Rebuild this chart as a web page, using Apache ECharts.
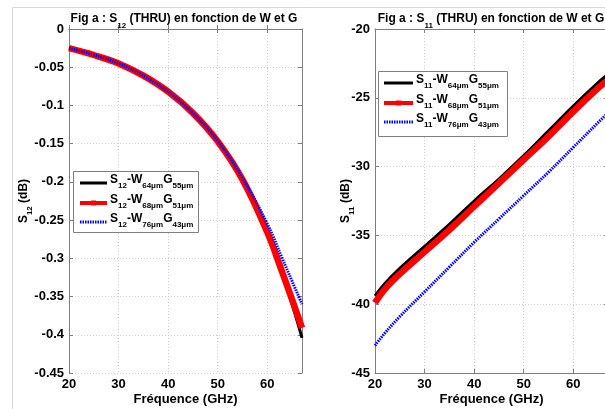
<!DOCTYPE html>
<html><head><meta charset="utf-8">
<script src="https://cdn.jsdelivr.net/npm/echarts@6/dist/echarts.min.js"></script>
<style>html,body{margin:0;padding:0;background:#fff}#c{width:605px;height:409px}</style>
</head><body><div id="c"></div>
<script>
// ---- data ----
const freqS12 = [20, 25, 30, 35, 40, 45, 50, 55, 60, 63, 65, 67];
const s12W64G55 = [-0.025, -0.034, -0.045, -0.061, -0.082, -0.110, -0.147, -0.198, -0.268, -0.322, -0.360, -0.404];
const s12W68G51 = [-0.025, -0.034, -0.045, -0.061, -0.082, -0.110, -0.147, -0.197, -0.266, -0.318, -0.354, -0.391];
const s12W76G43 = [-0.025, -0.034, -0.045, -0.061, -0.082, -0.110, -0.146, -0.195, -0.255, -0.300, -0.330, -0.360];

const freqS11 = [20, 22, 25, 30, 35, 40, 45, 50, 55, 60, 65, 67];
const s11W64G55 = [-39.4, -38.5, -37.4, -35.8, -34.2, -32.5, -30.9, -29.2, -27.4, -25.6, -23.9, -23.3];
const s11W68G51 = [-39.9, -38.9, -37.8, -36.2, -34.6, -32.9, -31.2, -29.5, -27.8, -26.0, -24.3, -23.7];
const s11W76G43 = [-43.0, -42.1, -40.9, -39.1, -37.3, -35.5, -33.8, -32.1, -30.4, -28.6, -26.8, -26.1];

const xTicks = [20, 30, 40, 50, 60];
const titles = ['Fig a : S|12| (THRU) en fonction de W et G', 'Fig a : S|11| (THRU) en fonction de W et G'];
const legendS12 = [['S','12','-W','64μm','G','55μm'], ['S','12','-W','68μm','G','51μm'], ['S','12','-W','76μm','G','43μm']];
const legendS11 = [['S','11','-W','64μm','G','55μm'], ['S','11','-W','68μm','G','51μm'], ['S','11','-W','76μm','G','43μm']];

const FONT = "'Liberation Sans', Arial, sans-serif";
const AX = '#7f7f7f';
const richMain = (fs, pad) => ({ fontSize: fs, fontWeight: 'bold', fontFamily: FONT, color: '#000', lineHeight: fs + 2, padding: [0, 0, pad, 0], verticalAlign: 'bottom' });
const richSub = (fs) => ({ fontSize: fs, fontWeight: 'bold', fontFamily: FONT, color: '#000', lineHeight: fs + 2, verticalAlign: 'bottom' });
const RICH = { m: richMain(12, 5), s: richSub(8) };
const RICH_L = { m: richMain(12, 4), s: richSub(8) };

function richStr(parts) { return parts.map((p, i) => p === '' ? '' : (i % 2 === 0 ? '{m|' + p + '}' : '{s|' + p + '}')).join(''); }

const chart = echarts.init(document.getElementById('c'));

function xAxisMain(gi) {
  return {
    type: 'value', gridIndex: gi, min: 20, max: 67, interval: 10,
    axisLine: { lineStyle: { color: AX } },
    axisTick: { inside: true, length: 4, lineStyle: { color: AX } },
    axisLabel: { color: '#000', fontFamily: FONT, fontWeight: 'bold', fontSize: 13, margin: 5, showMaxLabel: false,
      formatter: v => xTicks.indexOf(v) >= 0 ? String(v) : '' },
    splitLine: { show: true, lineStyle: { color: '#d0d0d0', type: [1, 2] } },
    name: 'Fréquence (GHz)', nameLocation: 'middle', nameGap: 20, nameMoveOverlap: false,
    nameTextStyle: { color: '#000', fontFamily: FONT, fontWeight: 'bold', fontSize: 13 }
  };
}
function xAxisTop(gi) {
  return { type: 'value', gridIndex: gi, position: 'top', min: 20, max: 67, interval: 10,
    axisLine: { lineStyle: { color: AX } }, axisTick: { inside: true, length: 4, lineStyle: { color: AX } },
    axisLabel: { show: false }, splitLine: { show: false } };
}
function yAxisMain(gi, min, max, interval, nameParts, gap) {
  return {
    type: 'value', gridIndex: gi, min: min, max: max, interval: interval,
    axisLine: { show: true, lineStyle: { color: AX } },
    axisTick: { show: true, inside: true, length: 4, lineStyle: { color: AX } },
    axisLabel: { color: '#000', fontFamily: FONT, fontWeight: 'bold', fontSize: 13, margin: 5 },
    splitLine: { show: true, lineStyle: { color: '#d0d0d0', type: [1, 2] } },
    name: richStr(nameParts), nameLocation: 'middle', nameGap: gap, nameRotate: 90, nameMoveOverlap: false,
    nameTextStyle: { rich: { m: richMain(12, 4), s: richSub(8) } }
  };
}
function yAxisRight(gi, min, max, interval) {
  return { type: 'value', gridIndex: gi, position: 'right', min: min, max: max, interval: interval,
    axisLine: { show: true, lineStyle: { color: AX } }, axisTick: { show: true, inside: true, length: 4, lineStyle: { color: AX } },
    axisLabel: { show: false }, splitLine: { show: false } };
}

function pairs(xs, ys) { return xs.map((x, i) => [x, ys[i]]); }

function seriesSet(gi, xs, a, b, c, names) {
  return [
    { type: 'line', name: names[0], xAxisIndex: gi * 2, yAxisIndex: gi * 2, data: pairs(xs, a), smooth: 0.4, symbol: 'none',
      lineStyle: { color: '#000000', width: 3 }, z: 2 },
    { type: 'line', name: names[1], xAxisIndex: gi * 2, yAxisIndex: gi * 2, data: pairs(xs, b), smooth: 0.4, symbol: 'none',
      lineStyle: { color: '#ff0000', width: 6.5 }, z: 3 },
    { type: 'line', name: names[2], xAxisIndex: gi * 2, yAxisIndex: gi * 2, data: pairs(xs, c), smooth: 0.4, symbol: 'none',
      lineStyle: { color: '#0000ff', width: 3, type: [1.5, 1] }, z: 4 }
  ];
}

function titleText(t) {
  const p = t.split('|');
  return '{m|' + p[0] + '}{s|' + p[1] + '}{m|' + p[2] + '}';
}

function legendGraphic(x0, y0, w, h, rows, textX, lineX0, lineX1, rowYs) {
  const els = [{ type: 'rect', shape: { x: x0 + 0.5, y: y0 + 0.5, width: w, height: h }, style: { fill: '#fff', stroke: '#808080', lineWidth: 1 }, z: 50 }];
  const cols = ['#000000', '#ff0000', '#0000ff'];
  rows.forEach((r, i) => {
    const y = rowYs[i];
    const ls = { stroke: cols[i], lineWidth: i === 1 ? 4 : 3 };
    if (i === 2) ls.lineDash = [1.5, 1];
    els.push({ type: 'line', shape: { x1: lineX0, y1: y, x2: lineX1, y2: y }, style: ls, z: 51 });
    if (i === 1) els.push({ type: 'rect', shape: { x: (lineX0 + lineX1) / 2 - 2.5, y: y - 2.5, width: 5, height: 5 }, style: { fill: '#ff0000' }, z: 52 });
    els.push({ type: 'text', x: textX, y: y, style: { text: richStr(r), rich: RICH_L, verticalAlign: 'middle', align: 'left' }, z: 52 });
  });
  return els;
}

const option = {
  backgroundColor: '#fff',
  animation: false,
  title: [
    { text: titleText(titles[0]), left: 184, top: 16, padding: 0, textAlign: 'center', textVerticalAlign: 'top', textStyle: { rich: RICH } },
    { text: titleText(titles[1]), left: 491, top: 16, padding: 0, textAlign: 'center', textVerticalAlign: 'top', textStyle: { rich: RICH } }
  ],
  grid: [
    { left: 69, top: 29, width: 233, height: 344, outerBoundsMode: 'none', containLabel: false },
    { left: 375, top: 29, width: 233, height: 344, outerBoundsMode: 'none', containLabel: false }
  ],
  xAxis: [xAxisMain(0), xAxisTop(0), xAxisMain(1), xAxisTop(1)],
  yAxis: [
    yAxisMain(0, -0.45, 0, 0.05, ['S', '12', ' (dB)'], 35), yAxisRight(0, -0.45, 0, 0.05),
    yAxisMain(1, -45, -20, 5, ['S', '11', ' (dB)'], 19), yAxisRight(1, -45, -20, 5)
  ],
  series: [].concat(
    seriesSet(0, freqS12, s12W64G55, s12W68G51, s12W76G43, ['S12-W64µmG55µm', 'S12-W68µmG51µm', 'S12-W76µmG43µm']),
    seriesSet(1, freqS11, s11W64G55, s11W68G51, s11W76G43, ['S11-W64µmG55µm', 'S11-W68µmG51µm', 'S11-W76µmG43µm'])
  ),
  graphic: [
    { type: 'line', shape: { x1: 12.5, y1: 7.5, x2: 605, y2: 7.5 }, style: { stroke: '#d8d8d8', lineWidth: 1 }, z: 1 },
    { type: 'line', shape: { x1: 12.5, y1: 7.5, x2: 12.5, y2: 409 }, style: { stroke: '#d8d8d8', lineWidth: 1 }, z: 1 }
  ].concat(
    legendGraphic(73, 171, 125, 61, legendS12, 110, 80, 107, [183, 203, 222]),
    legendGraphic(378, 71, 129, 65, legendS11, 416, 384, 413, [83, 103, 122])
  )
};
chart.setOption(option);
</script></body></html>
